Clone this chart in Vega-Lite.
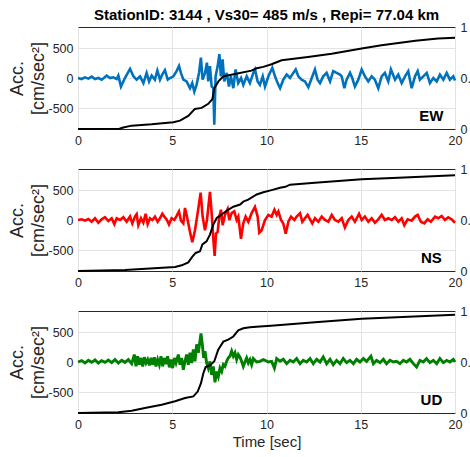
{
"$schema": "https://vega.github.io/schema/vega-lite/v6.json",
"background": "white",
"padding": {"left": 8, "top": 7, "right": 0, "bottom": 0},
"spacing": 15,
"config": {
  "font": "Liberation Sans",
  "view": {"stroke": "#262626", "strokeWidth": 1},
  "axis": {"domain": false, "ticks": false, "labelFontSize": 12.5, "labelColor": "#262626", "gridColor": "#e3e3e3", "labelPadding": 5, "labelFlush": false, "titleColor": "#262626", "titleFontWeight": "normal"}
},
"datasets": {
"ew": [{"t":0,"a":0},{"t":0.19,"a":-17},{"t":0.37,"a":11},{"t":0.55,"a":-11},{"t":0.73,"a":23},{"t":0.9,"a":-17},{"t":1.08,"a":0},{"t":1.26,"a":-28},{"t":1.52,"a":40},{"t":1.7,"a":0},{"t":1.87,"a":11},{"t":2.05,"a":-17},{"t":2.14,"a":40},{"t":2.28,"a":-142},{"t":2.49,"a":0},{"t":2.76,"a":153},{"t":2.94,"a":28},{"t":3.11,"a":-28},{"t":3.29,"a":28},{"t":3.47,"a":-85},{"t":3.64,"a":85},{"t":3.77,"a":-57},{"t":3.91,"a":40},{"t":4.08,"a":-28},{"t":4.21,"a":125},{"t":4.35,"a":-28},{"t":4.47,"a":57},{"t":4.61,"a":130},{"t":4.76,"a":-28},{"t":4.88,"a":0},{"t":5.06,"a":28},{"t":5.23,"a":114},{"t":5.36,"a":200},{"t":5.46,"a":85},{"t":5.59,"a":-28},{"t":5.76,"a":-57},{"t":5.94,"a":-170},{"t":6.06,"a":-85},{"t":6.17,"a":-227},{"t":6.29,"a":-114},{"t":6.42,"a":85},{"t":6.52,"a":340},{"t":6.61,"a":-28},{"t":6.74,"a":85},{"t":6.84,"a":255},{"t":6.91,"a":-57},{"t":7.0,"a":199},{"t":7.09,"a":-142},{"t":7.18,"a":-170},{"t":7.23,"a":-778},{"t":7.3,"a":28},{"t":7.41,"a":199},{"t":7.5,"a":398},{"t":7.58,"a":28},{"t":7.67,"a":312},{"t":7.76,"a":-57},{"t":7.89,"a":85},{"t":8.01,"a":-142},{"t":8.11,"a":28},{"t":8.24,"a":-170},{"t":8.36,"a":142},{"t":8.5,"a":-85},{"t":8.65,"a":0},{"t":8.77,"a":-114},{"t":8.95,"a":28},{"t":9.12,"a":-85},{"t":9.3,"a":85},{"t":9.39,"a":142},{"t":9.53,"a":-57},{"t":9.65,"a":-114},{"t":9.8,"a":28},{"t":9.92,"a":-142},{"t":10.1,"a":28},{"t":10.31,"a":170},{"t":10.45,"a":28},{"t":10.59,"a":-85},{"t":10.72,"a":-170},{"t":10.89,"a":-28},{"t":11.07,"a":57},{"t":11.25,"a":0},{"t":11.42,"a":85},{"t":11.55,"a":142},{"t":11.69,"a":28},{"t":11.86,"a":-28},{"t":12.04,"a":-57},{"t":12.22,"a":-153},{"t":12.4,"a":0},{"t":12.57,"a":142},{"t":12.71,"a":-28},{"t":12.84,"a":-85},{"t":13.01,"a":28},{"t":13.19,"a":85},{"t":13.37,"a":-57},{"t":13.54,"a":114},{"t":13.72,"a":85},{"t":13.9,"a":57},{"t":13.99,"a":28},{"t":14.13,"a":-170},{"t":14.25,"a":-28},{"t":14.43,"a":85},{"t":14.55,"a":0},{"t":14.69,"a":-142},{"t":14.87,"a":-28},{"t":15.05,"a":142},{"t":15.22,"a":28},{"t":15.4,"a":-57},{"t":15.58,"a":28},{"t":15.75,"a":-28},{"t":15.93,"a":-170},{"t":16.11,"a":28},{"t":16.28,"a":85},{"t":16.46,"a":-57},{"t":16.6,"a":142},{"t":16.82,"a":-28},{"t":16.99,"a":57},{"t":17.17,"a":-85},{"t":17.35,"a":28},{"t":17.52,"a":114},{"t":17.7,"a":-170},{"t":17.88,"a":28},{"t":18.02,"a":114},{"t":18.14,"a":-28},{"t":18.32,"a":28},{"t":18.5,"a":85},{"t":18.67,"a":-85},{"t":18.85,"a":0},{"t":19.03,"a":-57},{"t":19.2,"a":57},{"t":19.38,"a":-28},{"t":19.56,"a":85},{"t":19.73,"a":-28},{"t":19.91,"a":28},{"t":20,"a":-40}],
"ewc": [{"t":0,"c":0},{"t":2.2,"c":0.002},{"t":2.4,"c":0.015},{"t":2.85,"c":0.033},{"t":3.9,"c":0.046},{"t":5.06,"c":0.066},{"t":5.41,"c":0.082},{"t":5.85,"c":0.128},{"t":6.2,"c":0.197},{"t":6.56,"c":0.207},{"t":6.91,"c":0.247},{"t":7.13,"c":0.293},{"t":7.23,"c":0.4},{"t":7.45,"c":0.467},{"t":7.71,"c":0.516},{"t":8.33,"c":0.539},{"t":9.2,"c":0.572},{"t":9.48,"c":0.595},{"t":9.83,"c":0.609},{"t":10.27,"c":0.635},{"t":10.8,"c":0.674},{"t":12.2,"c":0.707},{"t":13.46,"c":0.737},{"t":15.05,"c":0.79},{"t":16.1,"c":0.82},{"t":17.9,"c":0.865},{"t":19.1,"c":0.888},{"t":20,"c":0.894}],
"ns": [{"t":0,"a":0},{"t":0.195,"a":11},{"t":0.371,"a":-11},{"t":0.548,"a":17},{"t":0.725,"a":-29},{"t":0.902,"a":29},{"t":1.079,"a":-46},{"t":1.255,"a":11},{"t":1.432,"a":46},{"t":1.609,"a":-17},{"t":1.786,"a":29},{"t":1.927,"a":-69},{"t":2.051,"a":29},{"t":2.228,"a":0},{"t":2.405,"a":46},{"t":2.581,"a":-29},{"t":2.758,"a":57},{"t":2.882,"a":-57},{"t":3.023,"a":57},{"t":3.112,"a":97},{"t":3.2,"a":-86},{"t":3.342,"a":29},{"t":3.465,"a":-46},{"t":3.589,"a":103},{"t":3.695,"a":-69},{"t":3.819,"a":29},{"t":3.943,"a":0},{"t":4.084,"a":57},{"t":4.226,"a":-29},{"t":4.349,"a":29},{"t":4.473,"a":103},{"t":4.579,"a":57},{"t":4.703,"a":11},{"t":4.827,"a":-74},{"t":4.968,"a":29},{"t":5.11,"a":0},{"t":5.233,"a":69},{"t":5.357,"a":143},{"t":5.463,"a":-11},{"t":5.587,"a":-57},{"t":5.675,"a":200},{"t":5.781,"a":57},{"t":5.941,"a":-200},{"t":6.064,"a":-370},{"t":6.206,"a":-171},{"t":6.347,"a":114},{"t":6.506,"a":457},{"t":6.612,"a":57},{"t":6.736,"a":-171},{"t":6.842,"a":0},{"t":7.001,"a":468},{"t":7.09,"a":114},{"t":7.178,"a":-314},{"t":7.249,"a":-600},{"t":7.32,"a":-228},{"t":7.408,"a":-200},{"t":7.497,"a":57},{"t":7.585,"a":171},{"t":7.673,"a":-86},{"t":7.797,"a":86},{"t":7.938,"a":183},{"t":8.027,"a":0},{"t":8.151,"a":114},{"t":8.292,"a":143},{"t":8.416,"a":0},{"t":8.504,"a":57},{"t":8.646,"a":-314},{"t":8.769,"a":-57},{"t":8.893,"a":57},{"t":9.035,"a":-29},{"t":9.211,"a":114},{"t":9.388,"a":217},{"t":9.53,"a":57},{"t":9.618,"a":-211},{"t":9.742,"a":-171},{"t":9.92,"a":0},{"t":10.1,"a":86},{"t":10.27,"a":57},{"t":10.42,"a":171},{"t":10.54,"a":86},{"t":10.63,"a":143},{"t":10.77,"a":0},{"t":10.89,"a":-57},{"t":11.02,"a":-228},{"t":11.16,"a":-29},{"t":11.3,"a":57},{"t":11.48,"a":0},{"t":11.6,"a":57},{"t":11.78,"a":114},{"t":11.9,"a":-29},{"t":12.04,"a":29},{"t":12.18,"a":86},{"t":12.31,"a":11},{"t":12.43,"a":-57},{"t":12.57,"a":29},{"t":12.75,"a":-29},{"t":12.93,"a":57},{"t":13.1,"a":0},{"t":13.28,"a":-29},{"t":13.46,"a":86},{"t":13.63,"a":0},{"t":13.81,"a":-29},{"t":13.99,"a":29},{"t":14.16,"a":-126},{"t":14.34,"a":0},{"t":14.52,"a":57},{"t":14.69,"a":-29},{"t":14.91,"a":103},{"t":15.05,"a":0},{"t":15.22,"a":57},{"t":15.4,"a":-29},{"t":15.58,"a":29},{"t":15.75,"a":-46},{"t":15.93,"a":11},{"t":16.11,"a":86},{"t":16.28,"a":0},{"t":16.46,"a":29},{"t":16.64,"a":0},{"t":16.82,"a":46},{"t":16.99,"a":-29},{"t":17.17,"a":29},{"t":17.31,"a":-86},{"t":17.49,"a":11},{"t":17.7,"a":-11},{"t":17.88,"a":57},{"t":18.02,"a":86},{"t":18.19,"a":-29},{"t":18.37,"a":-57},{"t":18.55,"a":11},{"t":18.72,"a":-29},{"t":18.94,"a":57},{"t":19.11,"a":29},{"t":19.29,"a":68},{"t":19.47,"a":0},{"t":19.64,"a":46},{"t":19.82,"a":11},{"t":20,"a":-46}],
"nsc": [{"t":0,"c":0},{"t":2.49,"c":0.01},{"t":4.26,"c":0.03},{"t":5.15,"c":0.04},{"t":5.5,"c":0.056},{"t":5.85,"c":0.085},{"t":6.06,"c":0.138},{"t":6.24,"c":0.177},{"t":6.47,"c":0.193},{"t":6.6,"c":0.26},{"t":6.82,"c":0.29},{"t":7.0,"c":0.357},{"t":7.18,"c":0.456},{"t":7.36,"c":0.52},{"t":7.62,"c":0.554},{"t":7.94,"c":0.597},{"t":8.24,"c":0.63},{"t":8.6,"c":0.652},{"t":8.77,"c":0.68},{"t":9.03,"c":0.7},{"t":9.48,"c":0.75},{"t":9.83,"c":0.772},{"t":10.27,"c":0.793},{"t":10.72,"c":0.816},{"t":11.0,"c":0.825},{"t":11.25,"c":0.846},{"t":12.57,"c":0.865},{"t":15.05,"c":0.899},{"t":17.0,"c":0.915},{"t":20,"c":0.938}],
"ud": [{"t":0,"a":0},{"t":0.195,"a":23},{"t":0.371,"a":-17},{"t":0.548,"a":28},{"t":0.725,"a":-6},{"t":0.902,"a":34},{"t":1.079,"a":-17},{"t":1.255,"a":23},{"t":1.432,"a":-6},{"t":1.609,"a":34},{"t":1.786,"a":-11},{"t":1.963,"a":40},{"t":2.139,"a":-17},{"t":2.316,"a":28},{"t":2.493,"a":-6},{"t":2.67,"a":40},{"t":2.847,"a":-28},{"t":2.988,"a":124},{"t":3.077,"a":-73},{"t":3.165,"a":96},{"t":3.253,"a":-45},{"t":3.342,"a":68},{"t":3.43,"a":-73},{"t":3.519,"a":79},{"t":3.607,"a":-17},{"t":3.695,"a":40},{"t":3.784,"a":-57},{"t":3.872,"a":68},{"t":3.961,"a":-45},{"t":4.049,"a":79},{"t":4.137,"a":-73},{"t":4.226,"a":40},{"t":4.314,"a":-45},{"t":4.403,"a":96},{"t":4.491,"a":-73},{"t":4.579,"a":68},{"t":4.668,"a":-34},{"t":4.756,"a":96},{"t":4.845,"a":-90},{"t":4.933,"a":40},{"t":5.021,"a":-102},{"t":5.11,"a":68},{"t":5.198,"a":-17},{"t":5.322,"a":124},{"t":5.41,"a":-45},{"t":5.499,"a":68},{"t":5.587,"a":-130},{"t":5.675,"a":11},{"t":5.764,"a":124},{"t":5.852,"a":-45},{"t":5.941,"a":153},{"t":6.029,"a":-17},{"t":6.117,"a":209},{"t":6.206,"a":11},{"t":6.294,"a":294},{"t":6.383,"a":153},{"t":6.471,"a":350},{"t":6.524,"a":475},{"t":6.595,"a":294},{"t":6.666,"a":68},{"t":6.736,"a":181},{"t":6.825,"a":-17},{"t":6.913,"a":-102},{"t":7.001,"a":11},{"t":7.09,"a":-215},{"t":7.178,"a":-73},{"t":7.267,"a":-339},{"t":7.355,"a":-158},{"t":7.443,"a":-243},{"t":7.532,"a":-102},{"t":7.62,"a":-158},{"t":7.709,"a":-45},{"t":7.797,"a":-73},{"t":7.885,"a":11},{"t":7.974,"a":68},{"t":8.062,"a":96},{"t":8.151,"a":181},{"t":8.239,"a":96},{"t":8.327,"a":153},{"t":8.416,"a":40},{"t":8.504,"a":124},{"t":8.593,"a":79},{"t":8.681,"a":11},{"t":8.769,"a":-73},{"t":8.858,"a":0},{"t":8.946,"a":68},{"t":9.035,"a":-17},{"t":9.123,"a":40},{"t":9.211,"a":-45},{"t":9.3,"a":57},{"t":9.477,"a":0},{"t":9.653,"a":11},{"t":9.83,"a":40},{"t":9.92,"a":28},{"t":10.1,"a":0},{"t":10.27,"a":11},{"t":10.42,"a":-102},{"t":10.54,"a":57},{"t":10.72,"a":11},{"t":10.89,"a":45},{"t":11.07,"a":-28},{"t":11.25,"a":28},{"t":11.42,"a":0},{"t":11.6,"a":57},{"t":11.78,"a":-28},{"t":11.95,"a":28},{"t":12.13,"a":0},{"t":12.31,"a":57},{"t":12.48,"a":-28},{"t":12.66,"a":45},{"t":12.84,"a":0},{"t":13.01,"a":85},{"t":13.19,"a":-28},{"t":13.37,"a":45},{"t":13.54,"a":-45},{"t":13.72,"a":28},{"t":13.9,"a":-28},{"t":14.07,"a":57},{"t":14.25,"a":-11},{"t":14.43,"a":28},{"t":14.61,"a":-28},{"t":14.78,"a":45},{"t":14.96,"a":0},{"t":15.14,"a":57},{"t":15.31,"a":11},{"t":15.54,"a":96},{"t":15.67,"a":-28},{"t":15.84,"a":28},{"t":16.02,"a":-11},{"t":16.2,"a":45},{"t":16.37,"a":-28},{"t":16.55,"a":28},{"t":16.73,"a":0},{"t":16.9,"a":11},{"t":17.08,"a":-28},{"t":17.26,"a":28},{"t":17.43,"a":0},{"t":17.61,"a":45},{"t":17.79,"a":-28},{"t":17.96,"a":-85},{"t":18.14,"a":28},{"t":18.32,"a":0},{"t":18.49,"a":57},{"t":18.67,"a":-11},{"t":18.85,"a":28},{"t":19.03,"a":-28},{"t":19.2,"a":57},{"t":19.38,"a":-11},{"t":19.56,"a":28},{"t":19.73,"a":0},{"t":19.91,"a":45},{"t":20,"a":0}],
"udc": [{"t":0,"c":0},{"t":2.14,"c":0.007},{"t":2.85,"c":0.023},{"t":3.55,"c":0.05},{"t":4.44,"c":0.08},{"t":5.15,"c":0.115},{"t":5.68,"c":0.147},{"t":6.12,"c":0.163},{"t":6.35,"c":0.21},{"t":6.52,"c":0.29},{"t":6.65,"c":0.39},{"t":6.77,"c":0.45},{"t":7.0,"c":0.467},{"t":7.23,"c":0.507},{"t":7.44,"c":0.62},{"t":7.71,"c":0.7},{"t":7.97,"c":0.72},{"t":8.24,"c":0.75},{"t":8.5,"c":0.81},{"t":8.77,"c":0.83},{"t":9.12,"c":0.84},{"t":9.65,"c":0.848},{"t":10.24,"c":0.856},{"t":12.57,"c":0.89},{"t":15.05,"c":0.925},{"t":20,"c":0.964}]
},
"vconcat": [
{
  "title": {"text": "StationID: 3144 , Vs30= 485 m/s , Repi= 77.04 km", "fontSize": 15, "fontWeight": "bold", "color": "#000000", "offset": -2, "anchor": "middle"},
  "width": 377, "height": 102,
  "layer": [
    {"layer": [
      {"data": {"name": "ew"}, "mark": {"type": "line", "color": "#0072BD", "strokeWidth": 2.6},
       "encoding": {
         "x": {"field": "t", "type": "quantitative", "scale": {"domain": [0, 20], "nice": false}, "axis": {"values": [0, 5, 10, 15, 20], "title": null, "grid": true}},
         "y": {"field": "a", "type": "quantitative", "scale": {"domain": [-850, 850], "nice": false}, "axis": {"values": [-500, 0, 500], "title": ["Acc.", "[cm/sec²]"], "titleFontSize": 18, "titleLineHeight": 21, "titlePadding": 0, "labelExpr": "replace(datum.label, '−', '-')", "grid": true}}}},
      {"data": {"values": [{"lab": "EW"}]}, "mark": {"type": "text", "fontSize": 15, "fontWeight": "bold", "color": "#000000", "align": "center", "baseline": "middle"},
       "encoding": {"x": {"datum": 18.75, "type": "quantitative"}, "y": {"datum": -630, "type": "quantitative"}, "text": {"field": "lab"}}}
    ]},
    {"data": {"name": "ewc"}, "mark": {"type": "line", "color": "#000000", "strokeWidth": 2},
     "encoding": {
       "x": {"field": "t", "type": "quantitative"},
       "y": {"field": "c", "type": "quantitative", "scale": {"domain": [0, 1], "nice": false}, "axis": {"orient": "right", "values": [0, 0.5, 1], "format": "~g", "title": null, "grid": false}}}}
  ],
  "resolve": {"scale": {"y": "independent"}}
},
{
  "width": 377, "height": 102,
  "layer": [
    {"layer": [
      {"data": {"name": "ns"}, "mark": {"type": "line", "color": "#FF0000", "strokeWidth": 2.6},
       "encoding": {
         "x": {"field": "t", "type": "quantitative", "scale": {"domain": [0, 20], "nice": false}, "axis": {"values": [0, 5, 10, 15, 20], "title": null, "grid": true}},
         "y": {"field": "a", "type": "quantitative", "scale": {"domain": [-850, 850], "nice": false}, "axis": {"values": [-500, 0, 500], "title": ["Acc.", "[cm/sec²]"], "titleFontSize": 18, "titleLineHeight": 21, "titlePadding": 0, "labelExpr": "replace(datum.label, '−', '-')", "grid": true}}}},
      {"data": {"values": [{"lab": "NS"}]}, "mark": {"type": "text", "fontSize": 15, "fontWeight": "bold", "color": "#000000", "align": "center", "baseline": "middle"},
       "encoding": {"x": {"datum": 18.75, "type": "quantitative"}, "y": {"datum": -630, "type": "quantitative"}, "text": {"field": "lab"}}}
    ]},
    {"data": {"name": "nsc"}, "mark": {"type": "line", "color": "#000000", "strokeWidth": 2},
     "encoding": {
       "x": {"field": "t", "type": "quantitative"},
       "y": {"field": "c", "type": "quantitative", "scale": {"domain": [0, 1], "nice": false}, "axis": {"orient": "right", "values": [0, 0.5, 1], "format": "~g", "title": null, "grid": false}}}}
  ],
  "resolve": {"scale": {"y": "independent"}}
},
{
  "width": 377, "height": 102,
  "layer": [
    {"layer": [
      {"data": {"name": "ud"}, "mark": {"type": "line", "color": "#008000", "strokeWidth": 2.9},
       "encoding": {
         "x": {"field": "t", "type": "quantitative", "scale": {"domain": [0, 20], "nice": false}, "axis": {"values": [0, 5, 10, 15, 20], "title": "Time [sec]", "titleFontSize": 15, "titlePadding": 4, "grid": true}},
         "y": {"field": "a", "type": "quantitative", "scale": {"domain": [-850, 850], "nice": false}, "axis": {"values": [-500, 0, 500], "title": ["Acc.", "[cm/sec²]"], "titleFontSize": 18, "titleLineHeight": 21, "titlePadding": 0, "labelExpr": "replace(datum.label, '−', '-')", "grid": true}}}},
      {"data": {"values": [{"lab": "UD"}]}, "mark": {"type": "text", "fontSize": 15, "fontWeight": "bold", "color": "#000000", "align": "center", "baseline": "middle"},
       "encoding": {"x": {"datum": 18.75, "type": "quantitative"}, "y": {"datum": -630, "type": "quantitative"}, "text": {"field": "lab"}}}
    ]},
    {"data": {"name": "udc"}, "mark": {"type": "line", "color": "#000000", "strokeWidth": 2},
     "encoding": {
       "x": {"field": "t", "type": "quantitative"},
       "y": {"field": "c", "type": "quantitative", "scale": {"domain": [0, 1], "nice": false}, "axis": {"orient": "right", "values": [0, 0.5, 1], "format": "~g", "title": null, "grid": false}}}}
  ],
  "resolve": {"scale": {"y": "independent"}}
}
]
}
